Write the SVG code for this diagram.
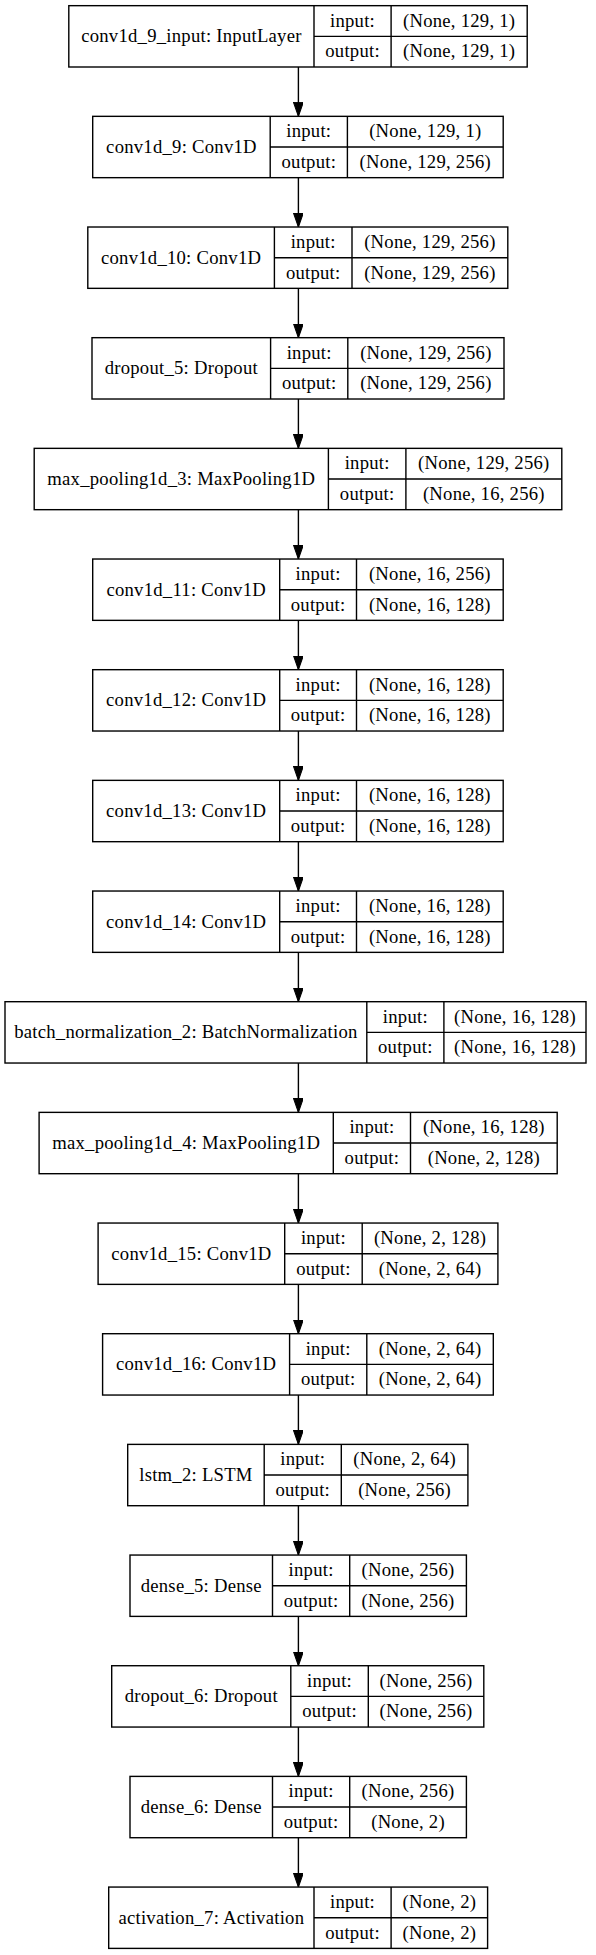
<svg xmlns="http://www.w3.org/2000/svg" width="596" height="1955" viewBox="0 0 596 1955">
<style>
.b{fill:#fff;stroke:#000;stroke-width:1.4}
.l{stroke:#000;stroke-width:1.4;fill:none}
text{font-family:"Liberation Serif","Times New Roman",serif;font-size:18.67px;letter-spacing:0.25px;fill:#000;text-anchor:middle}
.e{stroke:#000;stroke-width:1.4;fill:none;marker-end:url(#ah)}
</style>
<defs>
<marker id="ah" markerUnits="userSpaceOnUse" markerWidth="14" markerHeight="10" viewBox="0 0 13.33 9.33" refX="13.33" refY="4.67" orient="auto">
<path d="M0,0 L13.33,4.67 L0,9.33 z" fill="#000" stroke="#000" stroke-width="1"/>
</marker>
</defs>
<rect width="596" height="1955" fill="#fff"/>
<g id="edges">
<path class="e" d="M298.4,67 V116.34"/>
<path class="e" d="M298.4,177.67 V227.01"/>
<path class="e" d="M298.4,288.34 V337.68"/>
<path class="e" d="M298.4,399.01 V448.35"/>
<path class="e" d="M298.4,509.68 V559.02"/>
<path class="e" d="M298.4,620.35 V669.69"/>
<path class="e" d="M298.4,731.02 V780.36"/>
<path class="e" d="M298.4,841.69 V891.03"/>
<path class="e" d="M298.4,952.36 V1001.7"/>
<path class="e" d="M298.4,1063.03 V1112.37"/>
<path class="e" d="M298.4,1173.7 V1223.04"/>
<path class="e" d="M298.4,1284.37 V1333.71"/>
<path class="e" d="M298.4,1395.04 V1444.38"/>
<path class="e" d="M298.4,1505.71 V1555.05"/>
<path class="e" d="M298.4,1616.38 V1665.72"/>
<path class="e" d="M298.4,1727.05 V1776.39"/>
<path class="e" d="M298.4,1837.72 V1887.06"/>
</g>
<g id="n0" transform="translate(0,5.67)">
<rect class="b" x="68.8" y="0" width="458.4" height="61.33"/>
<path class="l" d="M314,0 V61.33 M391.1,0 V61.33 M314,30.67 H527.2"/>
<text x="191.4" y="36.5">conv1d_9_input: InputLayer</text>
<text x="352.55" y="21">input:</text><text x="352.55" y="51.6">output:</text>
<text x="459.15" y="21">(None, 129, 1)</text><text x="459.15" y="51.6">(None, 129, 1)</text>
</g>
<g id="n1" transform="translate(0,116.34)">
<rect class="b" x="92.7" y="0" width="410.5" height="61.33"/>
<path class="l" d="M270.2,0 V61.33 M347.4,0 V61.33 M270.2,30.67 H503.2"/>
<text x="181.45" y="36.5">conv1d_9: Conv1D</text>
<text x="308.8" y="21">input:</text><text x="308.8" y="51.6">output:</text>
<text x="425.3" y="21">(None, 129, 1)</text><text x="425.3" y="51.6">(None, 129, 256)</text>
</g>
<g id="n2" transform="translate(0,227.01)">
<rect class="b" x="87.8" y="0" width="420" height="61.33"/>
<path class="l" d="M274.4,0 V61.33 M352,0 V61.33 M274.4,30.67 H507.8"/>
<text x="181.1" y="36.5">conv1d_10: Conv1D</text>
<text x="313.2" y="21">input:</text><text x="313.2" y="51.6">output:</text>
<text x="429.9" y="21">(None, 129, 256)</text><text x="429.9" y="51.6">(None, 129, 256)</text>
</g>
<g id="n3" transform="translate(0,337.68)">
<rect class="b" x="92" y="0" width="412" height="61.33"/>
<path class="l" d="M270.6,0 V61.33 M347.8,0 V61.33 M270.6,30.67 H504"/>
<text x="181.3" y="36.5">dropout_5: Dropout</text>
<text x="309.2" y="21">input:</text><text x="309.2" y="51.6">output:</text>
<text x="425.9" y="21">(None, 129, 256)</text><text x="425.9" y="51.6">(None, 129, 256)</text>
</g>
<g id="n4" transform="translate(0,448.35)">
<rect class="b" x="34.2" y="0" width="527.6" height="61.33"/>
<path class="l" d="M328.4,0 V61.33 M405.9,0 V61.33 M328.4,30.67 H561.8"/>
<text x="181.3" y="36.5">max_pooling1d_3: MaxPooling1D</text>
<text x="367.15" y="21">input:</text><text x="367.15" y="51.6">output:</text>
<text x="483.85" y="21">(None, 129, 256)</text><text x="483.85" y="51.6">(None, 16, 256)</text>
</g>
<g id="n5" transform="translate(0,559.02)">
<rect class="b" x="92.7" y="0" width="410.5" height="61.33"/>
<path class="l" d="M279.7,0 V61.33 M356.5,0 V61.33 M279.7,30.67 H503.2"/>
<text x="186.2" y="36.5">conv1d_11: Conv1D</text>
<text x="318.1" y="21">input:</text><text x="318.1" y="51.6">output:</text>
<text x="429.85" y="21">(None, 16, 256)</text><text x="429.85" y="51.6">(None, 16, 128)</text>
</g>
<g id="n6" transform="translate(0,669.69)">
<rect class="b" x="92.7" y="0" width="410.5" height="61.33"/>
<path class="l" d="M279.7,0 V61.33 M356.5,0 V61.33 M279.7,30.67 H503.2"/>
<text x="186.2" y="36.5">conv1d_12: Conv1D</text>
<text x="318.1" y="21">input:</text><text x="318.1" y="51.6">output:</text>
<text x="429.85" y="21">(None, 16, 128)</text><text x="429.85" y="51.6">(None, 16, 128)</text>
</g>
<g id="n7" transform="translate(0,780.36)">
<rect class="b" x="92.7" y="0" width="410.5" height="61.33"/>
<path class="l" d="M279.7,0 V61.33 M356.5,0 V61.33 M279.7,30.67 H503.2"/>
<text x="186.2" y="36.5">conv1d_13: Conv1D</text>
<text x="318.1" y="21">input:</text><text x="318.1" y="51.6">output:</text>
<text x="429.85" y="21">(None, 16, 128)</text><text x="429.85" y="51.6">(None, 16, 128)</text>
</g>
<g id="n8" transform="translate(0,891.03)">
<rect class="b" x="92.7" y="0" width="410.5" height="61.33"/>
<path class="l" d="M279.7,0 V61.33 M356.5,0 V61.33 M279.7,30.67 H503.2"/>
<text x="186.2" y="36.5">conv1d_14: Conv1D</text>
<text x="318.1" y="21">input:</text><text x="318.1" y="51.6">output:</text>
<text x="429.85" y="21">(None, 16, 128)</text><text x="429.85" y="51.6">(None, 16, 128)</text>
</g>
<g id="n9" transform="translate(0,1001.7)">
<rect class="b" x="5" y="0" width="581" height="61.33"/>
<path class="l" d="M366.8,0 V61.33 M443.9,0 V61.33 M366.8,30.67 H586"/>
<text x="185.9" y="36.5">batch_normalization_2: BatchNormalization</text>
<text x="405.35" y="21">input:</text><text x="405.35" y="51.6">output:</text>
<text x="514.95" y="21">(None, 16, 128)</text><text x="514.95" y="51.6">(None, 16, 128)</text>
</g>
<g id="n10" transform="translate(0,1112.37)">
<rect class="b" x="39.1" y="0" width="518.1" height="61.33"/>
<path class="l" d="M333.3,0 V61.33 M410.5,0 V61.33 M333.3,30.67 H557.2"/>
<text x="186.2" y="36.5">max_pooling1d_4: MaxPooling1D</text>
<text x="371.9" y="21">input:</text><text x="371.9" y="51.6">output:</text>
<text x="483.85" y="21">(None, 16, 128)</text><text x="483.85" y="51.6">(None, 2, 128)</text>
</g>
<g id="n11" transform="translate(0,1223.04)">
<rect class="b" x="98.1" y="0" width="399.8" height="61.33"/>
<path class="l" d="M284.7,0 V61.33 M362.2,0 V61.33 M284.7,30.67 H497.9"/>
<text x="191.4" y="36.5">conv1d_15: Conv1D</text>
<text x="323.45" y="21">input:</text><text x="323.45" y="51.6">output:</text>
<text x="430.05" y="21">(None, 2, 128)</text><text x="430.05" y="51.6">(None, 2, 64)</text>
</g>
<g id="n12" transform="translate(0,1333.71)">
<rect class="b" x="102.6" y="0" width="390.7" height="61.33"/>
<path class="l" d="M289.6,0 V61.33 M366.8,0 V61.33 M289.6,30.67 H493.3"/>
<text x="196.1" y="36.5">conv1d_16: Conv1D</text>
<text x="328.2" y="21">input:</text><text x="328.2" y="51.6">output:</text>
<text x="430.05" y="21">(None, 2, 64)</text><text x="430.05" y="51.6">(None, 2, 64)</text>
</g>
<g id="n13" transform="translate(0,1444.38)">
<rect class="b" x="127.7" y="0" width="340.2" height="61.33"/>
<path class="l" d="M264.2,0 V61.33 M341.3,0 V61.33 M264.2,30.67 H467.9"/>
<text x="195.95" y="36.5">lstm_2: LSTM</text>
<text x="302.75" y="21">input:</text><text x="302.75" y="51.6">output:</text>
<text x="404.6" y="21">(None, 2, 64)</text><text x="404.6" y="51.6">(None, 256)</text>
</g>
<g id="n14" transform="translate(0,1555.05)">
<rect class="b" x="130" y="0" width="336.4" height="61.33"/>
<path class="l" d="M272.5,0 V61.33 M349.7,0 V61.33 M272.5,30.67 H466.4"/>
<text x="201.25" y="36.5">dense_5: Dense</text>
<text x="311.1" y="21">input:</text><text x="311.1" y="51.6">output:</text>
<text x="408.05" y="21">(None, 256)</text><text x="408.05" y="51.6">(None, 256)</text>
</g>
<g id="n15" transform="translate(0,1665.72)">
<rect class="b" x="111.7" y="0" width="372.1" height="61.33"/>
<path class="l" d="M290.8,0 V61.33 M368.3,0 V61.33 M290.8,30.67 H483.8"/>
<text x="201.25" y="36.5">dropout_6: Dropout</text>
<text x="329.55" y="21">input:</text><text x="329.55" y="51.6">output:</text>
<text x="426.05" y="21">(None, 256)</text><text x="426.05" y="51.6">(None, 256)</text>
</g>
<g id="n16" transform="translate(0,1776.39)">
<rect class="b" x="130" y="0" width="336.4" height="61.33"/>
<path class="l" d="M272.5,0 V61.33 M349.7,0 V61.33 M272.5,30.67 H466.4"/>
<text x="201.25" y="36.5">dense_6: Dense</text>
<text x="311.1" y="21">input:</text><text x="311.1" y="51.6">output:</text>
<text x="408.05" y="21">(None, 256)</text><text x="408.05" y="51.6">(None, 2)</text>
</g>
<g id="n17" transform="translate(0,1887.06)">
<rect class="b" x="108.7" y="0" width="378.9" height="61.33"/>
<path class="l" d="M314,0 V61.33 M391.1,0 V61.33 M314,30.67 H487.6"/>
<text x="211.35" y="36.5">activation_7: Activation</text>
<text x="352.55" y="21">input:</text><text x="352.55" y="51.6">output:</text>
<text x="439.35" y="21">(None, 2)</text><text x="439.35" y="51.6">(None, 2)</text>
</g>
</svg>
